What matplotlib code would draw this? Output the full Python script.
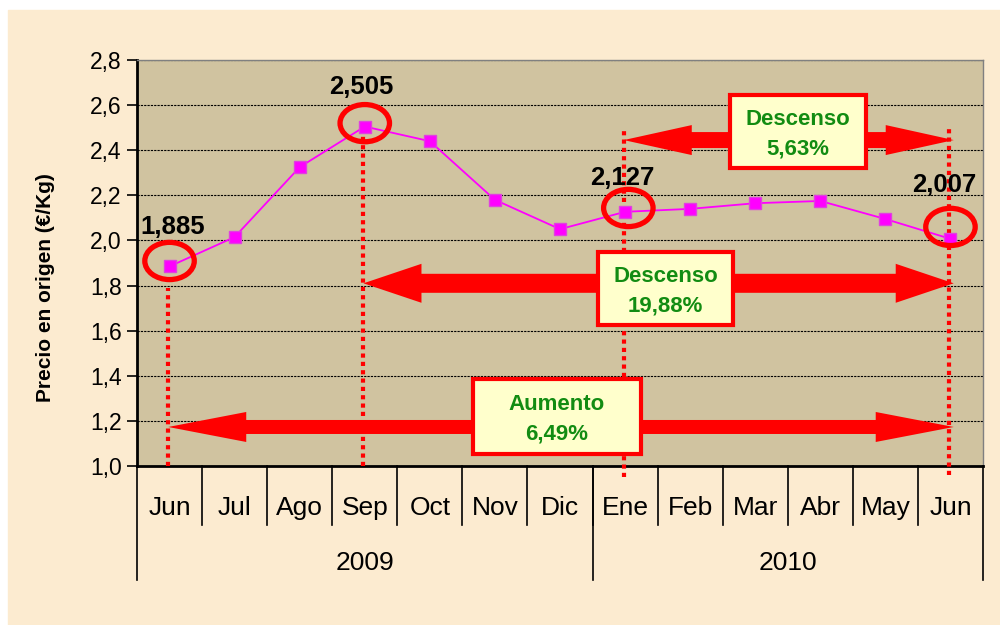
import numpy as np
import matplotlib
matplotlib.use("Agg")
import matplotlib.pyplot as plt
from matplotlib.patches import Ellipse, Polygon, Rectangle

plt.rcParams['font.family'] = ['Liberation Sans', 'DejaVu Sans']

meses = ["Jun", "Jul", "Ago", "Sep", "Oct", "Nov", "Dic",
         "Ene", "Feb", "Mar", "Abr", "May", "Jun"]
anios = ["2009", "2010"]
meses_por_anio = [7, 6]
precios = [1.885, 2.015, 2.325, 2.505, 2.44, 2.18, 2.05,
           2.127, 2.14, 2.165, 2.175, 2.095, 2.007]

# puntos marcados con circulo y su etiqueta
marcados = [0, 3, 7, 12]
etiquetas = ["1,885", "2,505", "2,127", "2,007"]

# flechas: (desde, hasta, nivel y, texto)
flechas = [
    (0, 12, 1.173, "Aumento\n6,49%"),
    (3, 12, 1.81, "Descenso\n19,88%"),
    (7, 12, 2.445, "Descenso\n5,63%"),
]

W, H = 1000, 625
fig = plt.figure(figsize=(10, 6.25), dpi=100, facecolor="white")
fig.patches.append(Rectangle((8 / W, 0), 1 - 8 / W, 1 - 10 / H,
                             transform=fig.transFigure, color="#FCEBD0", zorder=-10))

L, R, T, B = 137, 983, 60, 466
ax = fig.add_axes([L / W, 1 - B / H, (R - L) / W, (B - T) / H])
ax.set_facecolor("#D0C3A0")
n = len(meses)
x = np.arange(n)
ax.set_xlim(-0.5, n - 0.5)
ax.set_ylim(1.0, 2.8)

yt = np.arange(1.0, 2.81, 0.2)
ax.set_yticks(yt)
ax.set_yticklabels([f"{v:.1f}".replace(".", ",") for v in yt], fontsize=16.5)
ax.tick_params(axis="y", length=7, width=1.2, pad=4)
ax.set_xticks([])
ax.grid(axis="y", color="black", linestyle=(0, (2, 1)), linewidth=0.8)
ax.set_axisbelow(True)
for s in ["left", "bottom"]:
    ax.spines[s].set_linewidth(2)
for s in ["top", "right"]:
    ax.spines[s].set_color("#808080")
    ax.spines[s].set_linewidth(1)
ax.set_ylabel("Precio en origen (€/Kg)", fontsize=15, fontweight="bold")
ax.yaxis.set_label_coords((55 - L) / (R - L), (B - 288) / (B - T))

ax.plot(x, precios, color="#FF00FF", lw=1.3, marker="s", markersize=8,
        markerfacecolor="#FF00FF", markeredgecolor="#E040E0", zorder=5)

# circulos y etiquetas (desplazamientos respecto al punto)
circ_dx = [0.0, 0.0, 0.05, 0.0]
circ_dy = [0.024, 0.015, 0.017, 0.053]
lab_dx = [0.05, -0.06, -0.05, -0.1]
lab_dy = [0.175, 0.175, 0.15, 0.24]
cw, ch = 0.76, 0.165
for k, i in enumerate(marcados):
    ax.add_patch(Ellipse((x[i] + circ_dx[k], precios[i] + circ_dy[k]), cw, ch, fill=False,
                         edgecolor="#FF0000", lw=3.8, zorder=6))
    ax.text(x[i] + lab_dx[k], precios[i] + lab_dy[k], etiquetas[k], ha="center",
            va="center", fontsize=18.5, fontweight="bold", zorder=7)

# lineas punteadas verticales
lineas = {0: (1.79, 1.0), 3: (2.5, 1.0), 7: (2.49, 0.95), 12: (2.51, 0.96)}
for i, (top, bot) in lineas.items():
    ax.plot([x[i] - 0.02, x[i] - 0.02], [bot, top], color="#FF0000", lw=3,
            linestyle=(0, (1, 1)), zorder=4, clip_on=False, solid_capstyle="butt")

fig.canvas.draw()


def doble_flecha(i0, i1, y, head_len, head_w, shaft_w):
    p0 = ax.transData.transform((x[i0] - 0.02, y))
    p1 = ax.transData.transform((x[i1] + 0.05, y))
    yc = p0[1]
    xa, xb = p0[0], p1[0]
    pts = [(xa, yc), (xa + head_len, yc + head_w / 2), (xa + head_len, yc + shaft_w / 2),
           (xb - head_len, yc + shaft_w / 2), (xb - head_len, yc + head_w / 2), (xb, yc),
           (xb - head_len, yc - head_w / 2), (xb - head_len, yc - shaft_w / 2),
           (xa + head_len, yc - shaft_w / 2), (xa + head_len, yc - head_w / 2)]
    fig.patches.append(Polygon(pts, closed=True, transform=None,
                               facecolor="#FF0000", edgecolor="none", zorder=8))


tamanos = [(78, 30, 14), (58, 39, 19), (68, 30, 16)]
# cajas en pixeles: x0, x1, y0 (arriba), y1 (abajo)
cajas = [(473, 641, 379, 454), (598, 733, 252, 325), (730, 866, 95, 168)]
for (i0, i1, y, txt), (hl, hw, sw), (bx0, bx1, by0, by1) in zip(flechas, tamanos, cajas):
    doble_flecha(i0, i1, y, hl, hw, sw)
    fig.patches.append(Rectangle((bx0 / W, 1 - by1 / H), (bx1 - bx0) / W, (by1 - by0) / H,
                                 transform=fig.transFigure, facecolor="#FFFFCC",
                                 edgecolor="#FF0000", lw=3, zorder=15))
    fig.text((bx0 + bx1) / 2 / W, 1 - ((by0 + by1) / 2 + 3) / H, txt, ha="center",
             va="center", color="#128C12", fontsize=16, fontweight="bold",
             linespacing=1.55, zorder=20)

# eje de categorias en dos niveles
ymes, yanio = 1 - 508 / H, 1 - 563 / H
sep_mes = 1 - 525 / H
sep_anio = 1 - 580 / H
cat_w = (R - L) / n
for k, m in enumerate(meses):
    fig.text((L + (k + 0.5) * cat_w) / W, ymes, m, ha="center", va="center", fontsize=19)
    if k > 0:
        fig.add_artist(plt.Line2D([(L + k * cat_w) / W] * 2, [1 - B / H, sep_mes],
                                  color="black", lw=1.2))
inicio = 0
fig.add_artist(plt.Line2D([L / W] * 2, [1 - B / H, sep_anio], color="black", lw=1.2))
for a, cnt in zip(anios, meses_por_anio):
    fin = inicio + cnt
    fig.text((L + (inicio + fin) / 2 * cat_w) / W, yanio, a, ha="center", va="center",
             fontsize=19)
    fig.add_artist(plt.Line2D([(L + fin * cat_w) / W] * 2, [1 - B / H, sep_anio],
                              color="black", lw=1.2))
    inicio = fin

fig.savefig("out.png", dpi=100, facecolor=fig.get_facecolor())
